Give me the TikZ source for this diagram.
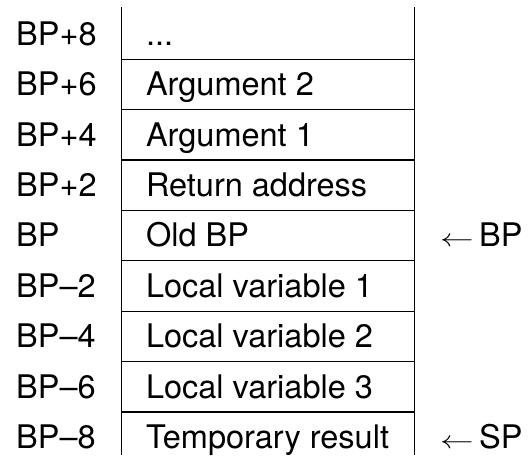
\documentclass[tikz,border=0pt]{standalone}
\usepackage{fontspec}
\setmainfont{TeX Gyre Heros}
\usetikzlibrary{positioning}

\begin{document}
\begin{tikzpicture}[x=1pt, y=-1pt,
  every node/.style={font=\fontsize{32.5}{38}\selectfont},
  cell/.style={minimum width=292pt, minimum height=50.4pt, inner sep=0pt},
  entry/.style={inner sep=0pt, text height=23pt, text depth=0pt},
  offset/.style={anchor=base west, inner sep=0pt},
  pointer/.style={anchor=base west, inner sep=0pt}]
  \useasboundingbox (0,0) rectangle (529,458);

  \node[cell] (c1) at (268, 33.8) {};
  \node[cell] (c2) at (268, 84.2) {};
  \node[cell] (c3) at (268,134.6) {};
  \node[cell] (c4) at (268,185.0) {};
  \node[cell] (c5) at (268,235.4) {};
  \node[cell] (c6) at (268,285.8) {};
  \node[cell] (c7) at (268,336.2) {};
  \node[cell] (c8) at (268,386.6) {};
  \node[cell] (c9) at (268,437.0) {};

  \node[entry, right=24pt of c1.west] (t1) {...};
  \node[entry, right=24pt of c2.west] (t2) {Argument 2};
  \node[entry, right=24pt of c3.west] (t3) {Argument 1};
  \node[entry, right=24pt of c4.west] (t4) {Return address};
  \node[entry, right=24pt of c5.west] (t5) {Old BP};
  \node[entry, right=24pt of c6.west] (t6) {Local variable 1};
  \node[entry, right=24pt of c7.west] (t7) {Local variable 2};
  \node[entry, right=24pt of c8.west] (t8) {Local variable 3};
  \node[entry, right=24pt of c9.west] (t9) {Temporary result};

  \node[offset] (o1) at (16, 45.3) {BP+8};
  \node[offset] (o2) at (16, 95.7) {BP+6};
  \node[offset] (o3) at (16,146.1) {BP+4};
  \node[offset] (o4) at (16,196.5) {BP+2};
  \node[offset] (o5) at (16,246.9) {BP};
  \node[offset] (o6) at (16,297.3) {BP--2};
  \node[offset] (o7) at (16,347.7) {BP--4};
  \node[offset] (o8) at (16,398.1) {BP--6};
  \node[offset] (o9) at (16,448.5) {BP--8};

  \node[pointer] (bp) at (440,246.9) {\scalebox{1.35}[1]{$\leftarrow$}\,BP};
  \node[pointer] (sp) at (440,448.5) {\scalebox{1.35}[1]{$\leftarrow$}\,SP};

  \coordinate (top) at (0,7);
  \coordinate (bot) at (0,455);

  % frame of the stack
  \draw [line width=1.2pt] (c1.west |- top) -- (c9.west |- bot);
  \draw [line width=1.2pt] (c1.east |- top) -- (c9.east |- bot);

  \draw [line width=1.2pt] (c1.south west) -- (c1.south east);
  \draw [line width=1.2pt] (c2.south west) -- (c2.south east);
  \draw [line width=1.2pt] (c3.south west) -- (c3.south east);
  \draw [line width=1.2pt] (c4.south west) -- (c4.south east);
  \draw [line width=1.2pt] (c5.south west) -- (c5.south east);
  \draw [line width=1.2pt] (c6.south west) -- (c6.south east);
  \draw [line width=1.2pt] (c7.south west) -- (c7.south east);
  \draw [line width=1.2pt] (c8.south west) -- (c8.south east);
\end{tikzpicture}
\end{document}
